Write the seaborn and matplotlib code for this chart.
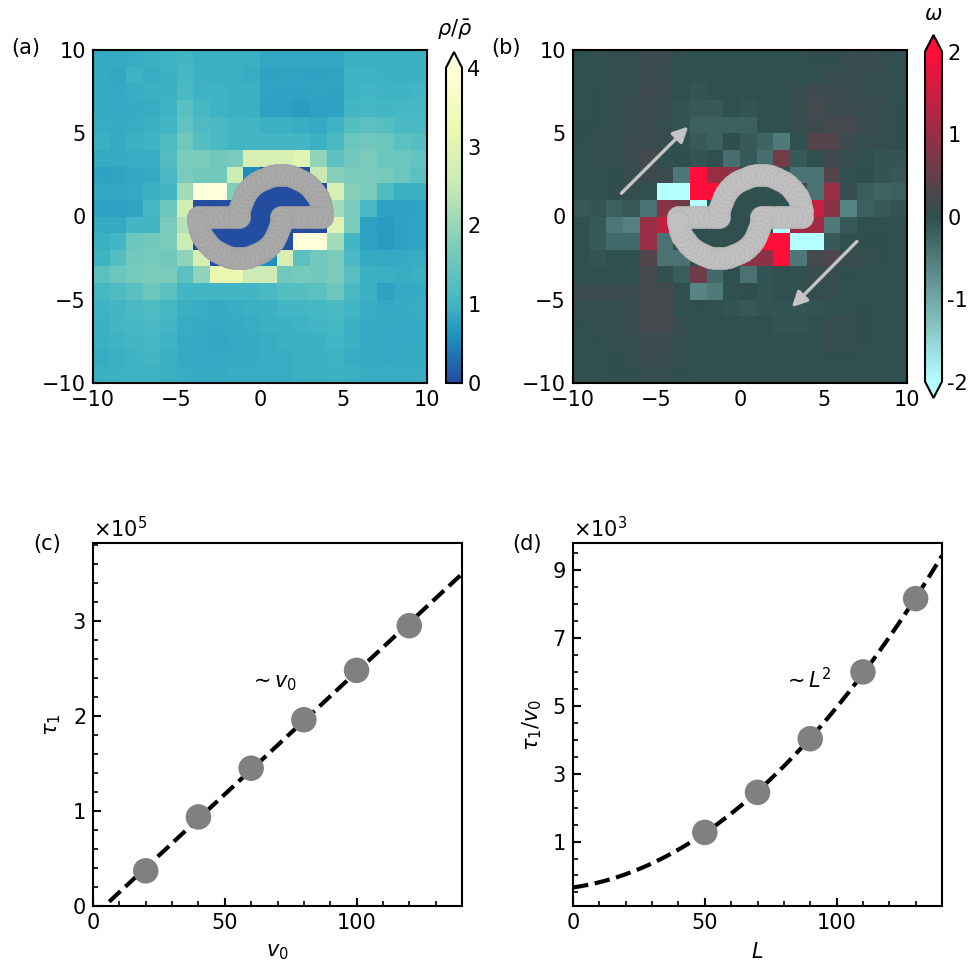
import numpy as np
import matplotlib
matplotlib.use("Agg")
import matplotlib.pyplot as plt
import seaborn as sns
from matplotlib.colors import ListedColormap, LinearSegmentedColormap
from matplotlib.ticker import MultipleLocator, FixedLocator, ScalarFormatter
from matplotlib.transforms import Affine2D

# ---------------------------------------------------------------- data
# density rho/rho_bar on a 20x20 grid, rows from y=10 (top) to y=-10
rho_rows = [
    [0.87, 0.87, 0.90, 0.95, 0.97, 1.00, 0.93, 0.93, 0.93, 0.93, 0.83, 0.83, 0.83, 0.83, 0.83, 0.93, 0.93, 0.93, 0.95, 0.95],
    [0.87, 0.83, 0.97, 0.90, 0.95, 1.05, 0.95, 0.93, 0.93, 0.90, 0.78, 0.80, 0.80, 0.78, 0.80, 0.97, 0.97, 0.95, 0.93, 0.95],
    [0.87, 0.85, 0.90, 0.93, 0.95, 1.10, 0.97, 0.97, 0.95, 0.93, 0.80, 0.78, 0.78, 0.80, 0.78, 0.97, 1.00, 0.97, 0.97, 1.00],
    [0.87, 0.85, 0.87, 0.90, 0.97, 1.30, 1.05, 0.97, 0.95, 0.93, 0.75, 0.75, 0.73, 0.75, 0.78, 1.00, 1.05, 1.00, 1.05, 1.05],
    [0.90, 0.87, 0.90, 0.93, 1.00, 1.40, 1.15, 1.10, 1.00, 1.00, 0.93, 0.93, 0.90, 0.85, 0.97, 1.25, 1.35, 1.25, 1.10, 1.10],
    [0.93, 0.87, 0.93, 0.97, 1.15, 1.55, 1.25, 1.10, 1.00, 1.00, 1.00, 1.00, 1.00, 0.93, 1.10, 1.50, 1.60, 1.50, 1.35, 1.25],
    [0.87, 0.87, 0.90, 0.90, 1.20, 1.70, 1.70, 1.60, 1.70, 2.80, 2.80, 2.80, 3.00, 1.90, 1.35, 1.60, 1.70, 1.50, 1.50, 1.45],
    [0.78, 0.80, 0.83, 0.87, 1.10, 1.70, 1.60, 1.60, 2.60, 0.55, 0.00, 0.00, 0.00, 2.50, 1.80, 1.70, 1.70, 1.65, 1.50, 1.35],
    [0.83, 0.83, 0.85, 0.95, 1.00, 2.10, 4.30, 4.30, 1.75, 0.00, 0.00, 0.00, 0.00, 0.00, 2.80, 1.80, 1.70, 1.15, 0.93, 0.93],
    [0.78, 0.78, 0.80, 1.05, 1.50, 2.70, 0.00, 0.00, 0.00, 0.00, 0.00, 0.00, 0.00, 0.00, 2.10, 1.70, 1.10, 0.78, 0.78, 0.80],
    [0.87, 0.87, 1.00, 1.00, 1.70, 2.30, 0.00, 0.00, 0.00, 0.00, 0.00, 0.00, 0.00, 0.00, 3.00, 1.70, 0.75, 0.73, 0.75, 0.80],
    [0.93, 1.00, 1.50, 1.60, 1.70, 2.60, 0.00, 0.00, 0.00, 0.00, 0.00, 0.00, 4.30, 4.30, 2.10, 1.00, 0.78, 0.73, 0.75, 0.80],
    [0.97, 1.25, 1.60, 1.65, 1.60, 1.90, 2.80, 0.00, 0.00, 0.00, 0.60, 2.80, 1.35, 1.60, 1.70, 1.10, 0.87, 0.85, 0.87, 0.90],
    [1.35, 1.50, 1.65, 1.70, 1.70, 1.35, 1.90, 3.20, 3.20, 2.60, 2.60, 1.60, 1.65, 1.60, 1.70, 1.30, 0.95, 0.93, 0.90, 0.93],
    [1.05, 1.15, 1.30, 1.50, 1.35, 1.00, 1.00, 1.00, 1.00, 1.00, 1.10, 1.25, 1.25, 1.35, 1.50, 1.10, 0.95, 0.78, 0.85, 0.87],
    [0.97, 1.00, 1.10, 1.15, 1.05, 0.93, 0.90, 0.87, 0.90, 0.93, 0.95, 1.00, 1.00, 1.05, 1.10, 1.00, 0.90, 0.85, 0.87, 0.90],
    [0.95, 1.00, 1.05, 1.10, 1.00, 0.90, 0.87, 0.85, 0.87, 0.90, 0.93, 0.95, 0.97, 1.00, 1.05, 0.95, 0.87, 0.87, 0.85, 0.87],
    [0.93, 0.97, 1.00, 1.05, 0.97, 0.87, 0.85, 0.83, 0.85, 0.87, 0.90, 0.93, 0.93, 0.95, 1.00, 0.93, 0.87, 0.85, 0.85, 0.87],
    [0.90, 0.93, 0.97, 1.00, 0.93, 0.87, 0.85, 0.85, 0.87, 0.87, 0.90, 0.90, 0.93, 0.93, 0.97, 0.90, 0.87, 0.85, 0.87, 0.87],
    [0.93, 0.95, 0.97, 0.97, 0.93, 0.90, 0.87, 0.87, 0.90, 0.90, 0.90, 0.90, 0.93, 0.93, 0.95, 0.93, 0.90, 0.90, 0.90, 0.90],
]

# vorticity omega on the same grid
omega_rows = [
    [0.00, 0.00, 0.05, 0.05, 0.10, 0.10, 0.00, 0.00, 0.00, 0.00, 0.00, 0.00, 0.00, 0.00, 0.02, 0.02, 0.05, 0.08, 0.05, 0.00],
    [0.00, 0.00, 0.05, 0.05, 0.12, 0.08, 0.00, -0.03, -0.03, -0.03, 0.00, 0.00, 0.00, 0.00, 0.00, 0.05, 0.08, 0.05, 0.05, 0.00],
    [0.00, 0.02, 0.05, 0.05, 0.15, 0.10, 0.00, -0.05, -0.03, 0.00, 0.00, 0.00, 0.00, 0.05, 0.15, 0.12, 0.10, 0.05, 0.05, 0.00],
    [0.00, 0.02, 0.05, 0.08, 0.12, 0.05, -0.05, -0.10, -0.10, 0.00, -0.05, 0.00, 0.00, 0.05, 0.20, 0.15, 0.12, 0.08, 0.05, 0.02],
    [0.02, 0.02, 0.05, 0.08, 0.10, 0.05, -0.05, -0.20, -0.20, -0.20, -0.20, 0.00, 0.00, 0.05, 0.15, 0.20, 0.20, 0.10, 0.05, 0.02],
    [0.02, 0.05, 0.05, 0.10, 0.12, 0.08, 0.00, -0.12, -0.20, 0.02, -0.12, -0.25, -0.50, 0.00, 0.35, 0.35, 0.12, 0.05, 0.05, 0.02],
    [0.00, 0.05, 0.05, 0.10, 0.20, 0.00, 0.02, -0.05, 0.00, -0.35, -0.12, -0.35, 0.65, -0.12, 0.00, 0.15, 0.05, 0.00, -0.05, -0.05],
    [0.00, 0.00, 0.02, 0.05, 0.15, 0.10, -0.45, 2.30, 1.00, 0.90, 0.00, 0.00, 0.00, -0.40, -0.40, 0.35, 0.00, 0.02, -0.05, -0.10],
    [0.00, 0.00, 0.02, 0.05, 0.00, -2.30, -2.30, 2.30, 2.30, 0.00, 0.00, 0.00, 0.00, 0.10, -0.40, 1.00, 0.05, -0.15, -0.25, -0.20],
    [-0.10, -0.05, -0.20, -0.10, -0.40, 0.85, 0.60, -2.30, 0.00, 0.00, 0.00, 0.00, 0.00, 1.20, 1.45, 0.85, -0.60, -0.20, -0.10, -0.05],
    [0.00, -0.10, -0.45, -0.55, 1.00, 1.40, 0.00, 0.00, 0.00, 0.00, 0.00, 0.00, -2.30, 1.10, 1.10, -0.50, -0.12, 0.00, 0.00, 0.00],
    [0.00, -0.12, -0.30, -0.30, 1.00, -0.40, 0.00, 0.00, 0.00, 0.00, 0.00, 2.30, 2.30, -2.30, -2.30, -0.12, 0.00, 0.02, 0.02, 0.00],
    [0.00, -0.05, 0.00, 0.00, 0.35, -0.40, -0.40, 0.00, 0.00, 0.00, 0.90, 0.90, 2.30, -0.45, 0.20, 0.30, 0.10, 0.05, 0.02, 0.00],
    [0.00, 0.00, 0.00, 0.00, 0.20, 0.00, -0.15, 0.60, -0.30, 0.00, -0.40, -0.05, 0.00, 0.00, 0.10, 0.05, 0.02, 0.00, 0.00, 0.00],
    [0.10, 0.10, 0.10, 0.10, 0.20, 0.20, 0.00, -0.60, -0.50, 0.00, 0.02, -0.05, 0.00, 0.00, 0.05, 0.05, 0.00, 0.00, 0.00, 0.00],
    [0.05, 0.05, 0.05, 0.08, 0.20, 0.20, 0.00, 0.02, 0.00, -0.05, -0.10, -0.05, -0.05, -0.05, -0.05, 0.00, 0.00, 0.02, 0.00, 0.00],
    [0.02, 0.05, 0.05, 0.08, 0.20, 0.20, 0.05, 0.00, 0.00, 0.00, 0.00, 0.00, -0.05, -0.05, 0.00, 0.05, 0.05, 0.02, 0.00, 0.00],
    [0.00, 0.02, 0.05, 0.05, 0.10, 0.10, 0.05, 0.00, 0.00, 0.00, 0.00, 0.00, 0.00, 0.00, 0.00, 0.05, 0.05, 0.02, 0.00, 0.00],
    [0.00, 0.00, 0.02, 0.05, 0.10, 0.08, 0.05, 0.00, 0.00, 0.00, 0.00, 0.00, 0.00, 0.00, 0.00, 0.02, 0.02, 0.00, 0.00, 0.00],
    [0.00, 0.00, 0.02, 0.02, 0.05, 0.05, 0.02, 0.00, 0.00, 0.00, 0.00, 0.00, 0.00, 0.00, 0.00, 0.00, 0.00, 0.00, 0.00, 0.00],
]

grid_ticks = [-10, -5, 0, 5, 10]
rho_cticks = [0, 1, 2, 3, 4]
omega_cticks = [-2, -1, 0, 1, 2]

# relaxation time versus self-propulsion speed
v0 = [20, 40, 60, 80, 100, 120]
tau1 = [0.37e5, 0.937e5, 1.45e5, 1.96e5, 2.48e5, 2.95e5]

# relaxation time per speed versus system size
L_vals = [50, 70, 90, 110, 130]
tau_per_v0 = [1270, 2450, 4030, 6000, 8160]

# S-shaped ring of beads: two half circles joined by straight segments
ring_arc_centers = (-1.24, 1.24)
ring_radius = 2.5
bead_spacing = 0.3

# flow direction arrows in the vorticity panel (tail, head)
flow_arrows = [((-7.1, 1.4), (-3.1, 5.4)), ((7.0, -1.5), (3.1, -5.45))]

# ---------------------------------------------------------------- style
sns.set_theme(style="ticks")
plt.rcParams.update({
    "font.family": ["DejaVu Sans"],
    "mathtext.fontset": "dejavusans",
    "font.size": 10,
    "axes.labelsize": 10,
    "xtick.labelsize": 10,
    "ytick.labelsize": 10,
    "axes.linewidth": 1.0,
    "axes.edgecolor": "black",
    "xtick.color": "black",
    "ytick.color": "black",
    "axes.labelcolor": "black",
    "text.color": "black",
    "xtick.direction": "in",
    "ytick.direction": "in",
    "xtick.major.size": 4,
    "ytick.major.size": 4,
    "xtick.minor.size": 2.5,
    "ytick.minor.size": 2.5,
    "xtick.major.width": 1.0,
    "ytick.major.width": 1.0,
    "xtick.minor.width": 0.8,
    "ytick.minor.width": 0.8,
})

W = 976
fig = plt.figure(figsize=(W / 150, W / 150), dpi=150)


def frac(x0, y0, x1, y1):
    """pixel box (left, top, right, bottom) -> figure fraction rect"""
    return [x0 / W, 1 - y1 / W, (x1 - x0) / W, (y1 - y0) / W]


ax_a = fig.add_axes(frac(93, 50, 427, 383))
cax_a = fig.add_axes(frac(446, 52, 462, 383))
ax_b = fig.add_axes(frac(573, 50, 907, 383))
cax_b = fig.add_axes(frac(925, 35, 942, 398))
ax_c = fig.add_axes(frac(93, 543, 462, 906))
ax_d = fig.add_axes(frac(573, 543, 942, 906))

# colour maps
_ygb = plt.get_cmap("YlGnBu")
_levels = np.linspace(0, 4, 256)
rho_cmap = ListedColormap(_ygb(np.interp(_levels, [0, 1, 4], [0.8, 0.5, 0.0])))
omega_cmap = LinearSegmentedColormap.from_list("omega", ["#b4ffff", "#2f4f4f", "#ff0e3a"])


def ring_beads(c_lo, c_hi, R, ds):
    def line(x0, x1):
        n = max(int(round(abs(x1 - x0) / ds)), 1)
        xs = np.linspace(x0, x1, n, endpoint=False)
        return np.column_stack([xs, np.zeros_like(xs)])

    def arc(cx, a0, a1):
        n = max(int(round(abs(a1 - a0) * R / ds)), 1)
        a = np.linspace(a0, a1, n, endpoint=False)
        return np.column_stack([cx + R * np.cos(a), R * np.sin(a)])

    return np.vstack([
        line(c_lo - R, c_hi - R),
        arc(c_hi, np.pi, 0.0),
        line(c_hi + R, c_lo + R),
        arc(c_lo, 0.0, -np.pi),
    ])


beads = ring_beads(ring_arc_centers[0], ring_arc_centers[1], ring_radius, bead_spacing)


def draw_field(ax, cax, field, cmap, vmin, vmax, extend, cticks, bead_color, bead_edge):
    field = np.asarray(field)
    n = field.shape[0]
    half = n / 2
    sns.heatmap(field, ax=ax, cbar_ax=cax, cmap=cmap, vmin=vmin, vmax=vmax,
                xticklabels=False, yticklabels=False,
                cbar_kws=dict(extend=extend, ticks=cticks))
    # physical (x, y) -> heatmap cell coordinates
    phys = Affine2D().translate(half, -half).scale(1, -1) + ax.transData

    sns.scatterplot(x=beads[:, 0], y=beads[:, 1], ax=ax, transform=phys,
                    s=110, color=bead_color, edgecolor=bead_edge, linewidth=0.4,
                    zorder=3, legend=False)

    ax.set_xlim(0, n)
    ax.set_ylim(n, 0)
    lab = [str(t).replace("-", "\u2212") for t in grid_ticks]
    ax.set_xticks([t + half for t in grid_ticks])
    ax.set_xticklabels(lab, rotation=0)
    ax.set_yticks([half - t for t in grid_ticks])
    ax.set_yticklabels(lab, rotation=0)
    ax.xaxis.set_minor_locator(MultipleLocator(1))
    ax.yaxis.set_minor_locator(MultipleLocator(1))
    ax.tick_params(which="both", direction="in", left=True, bottom=True,
                   top=False, right=False)
    ax.set_xlabel("")
    ax.set_ylabel("")
    for sp in ax.spines.values():
        sp.set_visible(True)
        sp.set_linewidth(1.0)
        sp.set_color("black")

    cb = ax.collections[0].colorbar
    cb.outline.set_visible(True)
    cb.outline.set_linewidth(1.0)
    cb.outline.set_edgecolor("black")
    cb.set_ticks(cticks, labels=[str(t) for t in cticks])
    cb.ax.tick_params(direction="in", length=4, width=1.0, labelsize=10,
                      right=True, left=False, pad=2.5)
    cb.ax.minorticks_off()
    return phys


draw_field(ax_a, cax_a, rho_rows, rho_cmap, 0, 4, "max", rho_cticks,
           "#a9a9a9", "#a0a0a0")
phys_b = draw_field(ax_b, cax_b, omega_rows, omega_cmap, -2, 2, "both", omega_cticks,
                    "#c0c0c0", "#b6b6b6")

for tail, head in flow_arrows:
    ax_b.annotate("", xy=head, xytext=tail, xycoords=phys_b, textcoords=phys_b,
                  arrowprops=dict(arrowstyle="-|>,head_length=0.6,head_width=0.3",
                                  color="#c4c4c4", lw=1.6, shrinkA=0, shrinkB=0),
                  zorder=4)

fig.text(455 / W, 1 - 30 / W, r"$\rho/\bar{\rho}$", ha="center", va="center", fontsize=10)
fig.text(933.5 / W, 1 - 14 / W, r"$\omega$", ha="center", va="center", fontsize=10)


# ---------------------------------------------------------------- scaling panels
def style_curve_axes(ax):
    fmt = ScalarFormatter(useMathText=True)
    fmt.set_powerlimits((0, 0))
    ax.yaxis.set_major_formatter(fmt)
    ax.set_xlim(0, 140)
    ax.xaxis.set_major_locator(MultipleLocator(50))
    ax.xaxis.set_minor_locator(MultipleLocator(10))
    ax.tick_params(which="both", direction="in", left=True, bottom=True,
                   top=False, right=False)
    for sp in ax.spines.values():
        sp.set_visible(True)
        sp.set_linewidth(1.0)


xs = np.linspace(0, 140, 300)

lin_fit = np.polyfit(v0, tau1, 1)
sns.lineplot(x=xs, y=np.polyval(lin_fit, xs), ax=ax_c, color="black",
             linestyle="--", linewidth=2, zorder=2, errorbar=None)
sns.scatterplot(x=v0, y=tau1, ax=ax_c, s=150, color="#808080",
                edgecolor="none", zorder=3, legend=False)
style_curve_axes(ax_c)
ax_c.set_ylim(0, 3.82e5)
ax_c.yaxis.set_major_locator(MultipleLocator(1e5))
ax_c.yaxis.set_minor_locator(MultipleLocator(0.2e5))
ax_c.set_xlabel(r"$v_0$")
ax_c.set_ylabel(r"$\tau_1$")
ax_c.text(59, 2.35e5, r"$\sim v_0$", va="center", ha="left", fontsize=10)

quad_fit = np.polyfit(L_vals, tau_per_v0, 2)
sns.lineplot(x=xs, y=np.polyval(quad_fit, xs), ax=ax_d, color="black",
             linestyle="--", linewidth=2, zorder=2, errorbar=None)
sns.scatterplot(x=L_vals, y=tau_per_v0, ax=ax_d, s=150, color="#808080",
                edgecolor="none", zorder=3, legend=False)
style_curve_axes(ax_d)
ax_d.set_ylim(-0.9e3, 9.8e3)
ax_d.yaxis.set_major_locator(FixedLocator([1e3, 3e3, 5e3, 7e3, 9e3]))
ax_d.yaxis.set_minor_locator(MultipleLocator(0.5e3))
ax_d.set_xlabel(r"$L$")
ax_d.set_ylabel(r"$\tau_1/v_0$")
ax_d.text(79.5, 5.77e3, r"$\sim L^2$", va="center", ha="left", fontsize=10)

# panel letters
for lab, (px, py) in zip(["(a)", "(b)", "(c)", "(d)"],
                         [(26, 48), (506, 48), (47, 544), (527, 544)]):
    fig.text(px / W, 1 - py / W, lab, ha="center", va="center", fontsize=10)

fig.savefig("out.png", dpi=150)
